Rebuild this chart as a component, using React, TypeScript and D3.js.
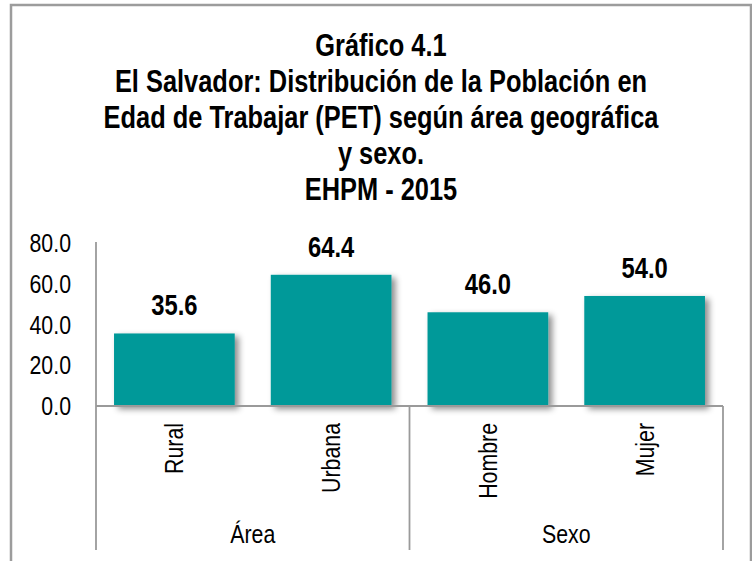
import { useEffect, useRef } from 'react'
import * as d3 from 'd3'

const titleLines = [
  'Gráfico 4.1',
  'El Salvador: Distribución de la Población en',
  'Edad de Trabajar (PET) según área geográfica',
  'y sexo.',
  'EHPM - 2015'
]

const categories = ['Rural', 'Urbana', 'Hombre', 'Mujer']
const values = [35.6, 64.4, 46.0, 54.0]
const groups = ['Área', 'Área', 'Sexo', 'Sexo']
const yTicks = [0, 20, 40, 60, 80]

// no Arial Narrow here, so squeeze Liberation Sans horizontally
const FONT = "'Liberation Sans', Arial, sans-serif"
const NARROW = 0.82

export default function App() {
  const svgRef = useRef<SVGSVGElement>(null)

  useEffect(() => {
    if (!svgRef.current) return
    document.body.style.margin = '0'

    const svg = d3.select(svgRef.current)
    svg.selectAll('*').remove()

    const left = 96
    const right = 723
    const baseline = 406
    const top = 243
    const groupBottom = 550

    // drop shadow for the bars
    const defs = svg.append('defs')
    const filter = defs
      .append('filter')
      .attr('id', 'barShadow')
      .attr('x', '-10%')
      .attr('y', '-10%')
      .attr('width', '130%')
      .attr('height', '130%')
    filter
      .append('feDropShadow')
      .attr('dx', 4)
      .attr('dy', 3)
      .attr('stdDeviation', 3)
      .attr('flood-color', '#000')
      .attr('flood-opacity', 0.45)

    // outer frame (bottom edge runs off the picture)
    svg
      .append('rect')
      .attr('x', 11)
      .attr('y', 5)
      .attr('width', 740)
      .attr('height', 620)
      .attr('fill', '#fff')
      .attr('stroke', '#9c9c9c')
      .attr('stroke-width', 2.5)

    // title
    svg
      .append('g')
      .selectAll('text')
      .data(titleLines)
      .enter()
      .append('text')
      .attr('transform', (d, i) => `translate(381,${56 + i * 36}) scale(${NARROW},1)`)
      .attr('text-anchor', 'middle')
      .style('font-family', FONT)
      .style('font-weight', 'bold')
      .style('font-size', '31px')
      .style('fill', '#000')
      .text(d => d)

    const x = d3
      .scaleBand<string>()
      .domain(categories)
      .range([left, right])
      .paddingInner(0.23)
      .paddingOuter(0.115)

    const y = d3.scaleLinear().domain([0, 80]).range([baseline, top])

    // y tick labels
    svg
      .append('g')
      .selectAll('text')
      .data(yTicks)
      .enter()
      .append('text')
      .attr('transform', d => `translate(71,${y(d)}) scale(${NARROW},1)`)
      .attr('dy', '0.35em')
      .attr('text-anchor', 'end')
      .style('font-family', FONT)
      .style('font-size', '26px')
      .style('fill', '#000')
      .text(d => d.toFixed(1))

    // bars
    svg
      .append('g')
      .selectAll('rect')
      .data(values)
      .enter()
      .append('rect')
      .attr('x', (d, i) => x(categories[i]) as number)
      .attr('y', d => y(d))
      .attr('width', x.bandwidth())
      .attr('height', d => baseline - y(d))
      .attr('fill', '#009999')
      .attr('filter', 'url(#barShadow)')

    // value labels
    svg
      .append('g')
      .selectAll('text')
      .data(values)
      .enter()
      .append('text')
      .attr(
        'transform',
        (d, i) =>
          `translate(${(x(categories[i]) as number) + x.bandwidth() / 2},${y(d) - 18}) scale(${NARROW},1)`
      )
      .attr('text-anchor', 'middle')
      .style('font-family', FONT)
      .style('font-weight', 'bold')
      .style('font-size', '29px')
      .style('fill', '#000')
      .text(d => d.toFixed(1))

    // axes
    const axisColor = '#9a9a9a'
    svg
      .append('line')
      .attr('x1', left)
      .attr('x2', left)
      .attr('y1', y(80) - 1)
      .attr('y2', groupBottom)
      .attr('stroke', axisColor)
      .attr('stroke-width', 1.8)
    svg
      .append('line')
      .attr('x1', left)
      .attr('x2', right)
      .attr('y1', baseline)
      .attr('y2', baseline)
      .attr('stroke', axisColor)
      .attr('stroke-width', 1.8)

    // group separators and labels
    const groupNames = Array.from(new Set(groups))
    const step = x.step()
    const groupSpans = groupNames.map(g => {
      const idx = categories.map((c, i) => i).filter(i => groups[i] === g)
      const x0 = left + d3.min(idx)! * step
      const x1 = left + (d3.max(idx)! + 1) * step
      return { name: g, x0, x1 }
    })

    svg
      .append('g')
      .selectAll('line')
      .data(groupSpans)
      .enter()
      .append('line')
      .attr('x1', d => d.x1)
      .attr('x2', d => d.x1)
      .attr('y1', baseline)
      .attr('y2', groupBottom)
      .attr('stroke', axisColor)
      .attr('stroke-width', 1.8)

    svg
      .append('g')
      .selectAll('text')
      .data(groupSpans)
      .enter()
      .append('text')
      .attr('transform', d => `translate(${(d.x0 + d.x1) / 2},543) scale(${NARROW},1)`)
      .attr('text-anchor', 'middle')
      .style('font-family', FONT)
      .style('font-size', '26px')
      .style('fill', '#000')
      .text(d => d.name)

    // rotated category labels (squeezed along the glyph width, i.e. screen y)
    svg
      .append('g')
      .selectAll('text')
      .data(categories)
      .enter()
      .append('text')
      .attr(
        'transform',
        d => `translate(${(x(d) as number) + x.bandwidth() / 2},423) rotate(-90) scale(${NARROW},1)`
      )
      .attr('dy', '0.35em')
      .attr('text-anchor', 'end')
      .style('font-family', FONT)
      .style('font-size', '26px')
      .style('fill', '#000')
      .text(d => d)
  }, [])

  return (
    <svg
      ref={svgRef}
      width={752}
      height={561}
      style={{ position: 'absolute', left: 0, top: 0, display: 'block' }}
    />
  )
}
